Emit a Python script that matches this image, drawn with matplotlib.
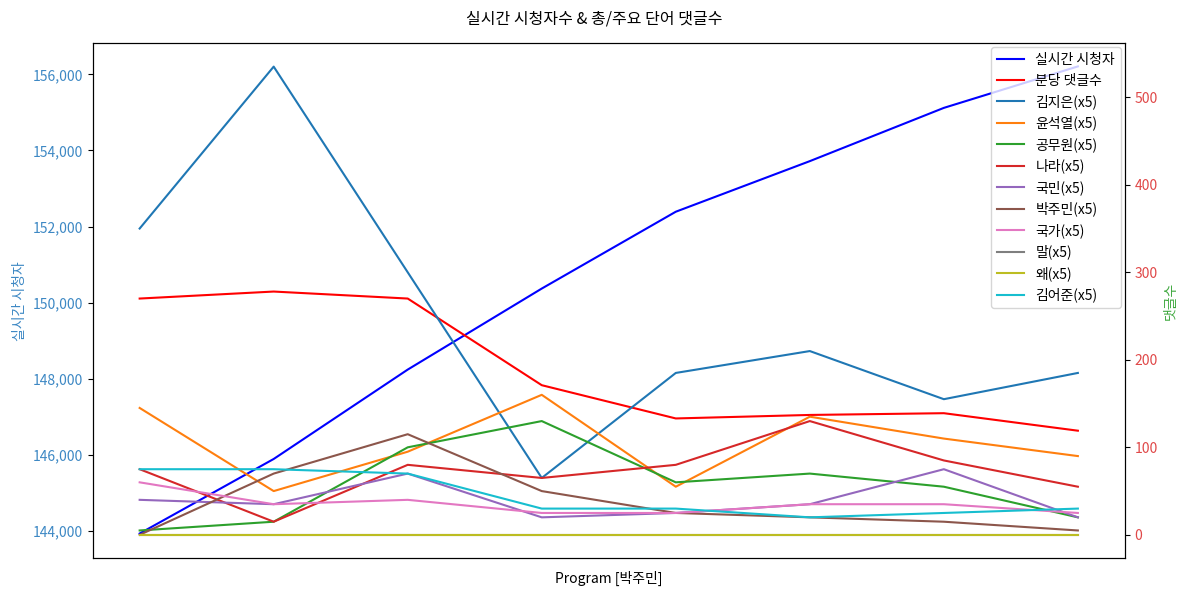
import matplotlib
matplotlib.use("Agg")
import matplotlib.pyplot as plt
from matplotlib.ticker import FuncFormatter

plt.rcParams['font.family'] = ['Noto Sans CJK KR', 'DejaVu Sans']
plt.rcParams['axes.unicode_minus'] = False

x = list(range(8))
viewers = [143930, 145890, 148240, 150370, 152390, 153720, 155120, 156210]
comments_per_min = [270, 278, 270, 171, 133, 137, 139, 119]

word_names = ['김지은', '윤석열', '공무원', '나라', '국민', '박주민', '국가', '말', '왜', '김어준']
word_values = {
    '김지은': [350, 535, 300, 65, 185, 210, 155, 185],
    '윤석열': [145, 50, 95, 160, 55, 135, 110, 90],
    '공무원': [5, 15, 100, 130, 60, 70, 55, 20],
    '나라':   [75, 15, 80, 65, 80, 130, 85, 55],
    '국민':   [40, 35, 70, 20, 25, 35, 75, 20],
    '박주민': [0, 70, 115, 50, 25, 20, 15, 5],
    '국가':   [60, 35, 40, 25, 25, 35, 35, 25],
    '말':     [0, 0, 0, 0, 0, 0, 0, 0],
    '왜':     [0, 0, 0, 0, 0, 0, 0, 0],
    '김어준': [75, 75, 70, 30, 30, 20, 25, 30],
}
word_colors = ['tab:blue', 'tab:orange', 'tab:green', 'tab:red', 'tab:purple',
               'tab:brown', 'tab:pink', 'tab:gray', 'tab:olive', 'tab:cyan']

fig, ax = plt.subplots(figsize=(11.89, 5.92), dpi=100)
ax2 = ax.twinx()

l1, = ax.plot(x, viewers, color='blue', lw=1.5, label='실시간 시청자')
l2, = ax2.plot(x, comments_per_min, color='red', lw=1.5, label='분당 댓글수')
handles = [l1, l2]
for name, c in zip(word_names, word_colors):
    h, = ax2.plot(x, word_values[name], color=c, lw=1.5, label=f'{name}(x5)')
    handles.append(h)

ax.set_xticks([])
ax.set_xlabel('Program [박주민]', fontsize=10, labelpad=9)
ax.set_ylabel('실시간 시청자', color='#3d88c4', fontsize=10)
ax.tick_params(axis='y', colors='#3d88c4', labelsize=10)
ax.tick_params(axis='y', which='both', color='black')
ax.yaxis.set_major_formatter(FuncFormatter(lambda v, p: f'{int(v):,}'))
ax.set_yticks([144000, 146000, 148000, 150000, 152000, 154000, 156000])
ax.set_ylim(143280, 156820)

ax2.set_ylabel('댓글수', color='#3fa83f', fontsize=10)
ax2.tick_params(axis='y', labelcolor='#e04848', labelsize=10)
ax2.set_yticks([0, 100, 200, 300, 400, 500])
ax2.set_ylim(-26.75, 561.75)

ax2.legend(handles=handles, loc='upper right', fontsize=10, framealpha=0.8,
           handlelength=2.0, borderaxespad=0.3, labelspacing=0.48)

fig.suptitle('실시간 시청자수 & 총/주요 단어 댓글수', fontsize=11.5, y=0.982)
fig.subplots_adjust(left=0.078, right=0.946, top=0.927, bottom=0.057)
fig.savefig('out.png', dpi=100)
